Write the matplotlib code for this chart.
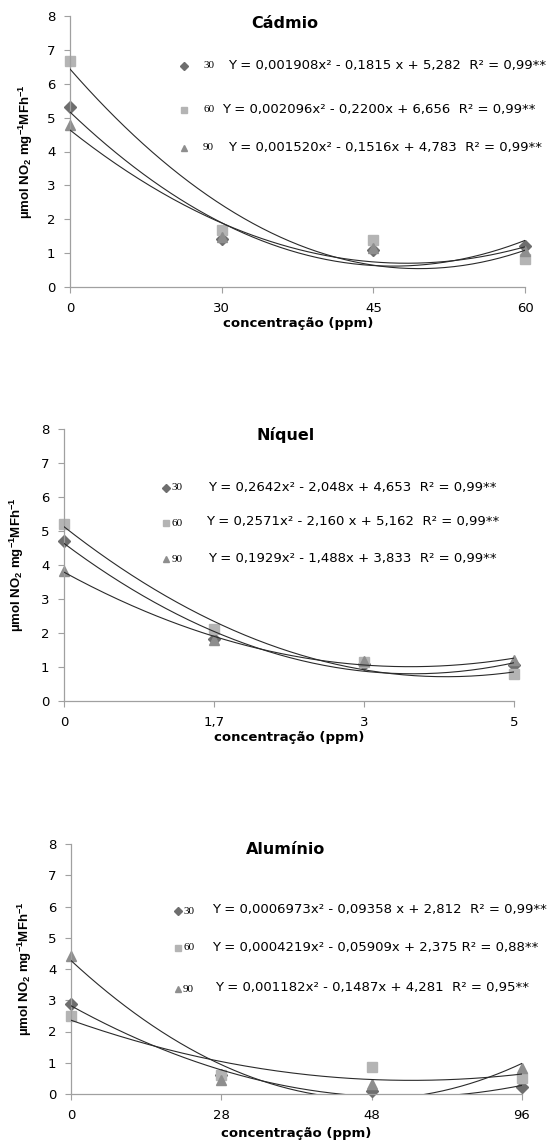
import numpy as np
import matplotlib
matplotlib.use("Agg")
import matplotlib.pyplot as plt

plt.rcParams['font.family'] = ['DejaVu Sans']
plt.rcParams['mathtext.default'] = 'regular'

W, H = 556, 1142

# data (category positions are evenly spaced)
series_names = ['30', '60', '90']

cd_labels = ['0', '30', '45', '60']
cd_30 = [5.32, 1.43, 1.10, 1.22]
cd_60 = [6.68, 1.69, 1.38, 0.84]
cd_90 = [4.77, 1.48, 1.15, 1.05]
cd_eqs = ['Y = 0,001908x² - 0,1815 x + 5,282  R² = 0,99**',
          'Y = 0,002096x² - 0,2200x + 6,656  R² = 0,99**',
          'Y = 0,001520x² - 0,1516x + 4,783  R² = 0,99**']

ni_labels = ['0', '1,7', '3', '5']
ni_30 = [4.71, 1.82, 1.10, 1.05]
ni_60 = [5.20, 2.12, 1.14, 0.78]
ni_90 = [3.83, 1.78, 1.18, 1.22]
ni_eqs = ['Y = 0,2642x² - 2,048x + 4,653  R² = 0,99**',
          'Y = 0,2571x² - 2,160 x + 5,162  R² = 0,99**',
          'Y = 0,1929x² - 1,488x + 3,833  R² = 0,99**']

al_labels = ['0', '28', '48', '96']
al_30 = [2.88, 0.60, 0.09, 0.22]
al_60 = [2.50, 0.62, 0.88, 0.50]
al_90 = [4.43, 0.46, 0.32, 0.82]
al_eqs = ['Y = 0,0006973x² - 0,09358 x + 2,812  R² = 0,99**',
          'Y = 0,0004219x² - 0,05909x + 2,375 R² = 0,88**',
          'Y = 0,001182x² - 0,1487x + 4,281  R² = 0,95**']

markers = ['D', 's', '^']
msizes = [6.5, 7.5, 7.5]
colors = ['#6e6e6e', '#b4b4b4', '#8e8e8e']

# layout in pixels: axes box (left, top, right, bottom), title, legend rows
panels = [
    dict(title='Cádmio', labels=cd_labels, ys=[cd_30, cd_60, cd_90], eqs=cd_eqs,
         box=(70, 16, 525, 287), title_xy=(285, 23), ylab_x=35, xlab_xy=(298, 323),
         mk_x=184, lab_x=203, eq_x=[228, 222, 228], rows=[65, 109, 147]),
    dict(title='Níquel', labels=ni_labels, ys=[ni_30, ni_60, ni_90], eqs=ni_eqs,
         box=(64, 429, 514, 701), title_xy=(286, 435), ylab_x=26, xlab_xy=(289, 737),
         mk_x=166, lab_x=172, eq_x=[208, 206, 208], rows=[487, 522, 558]),
    dict(title='Alumínio', labels=al_labels, ys=[al_30, al_60, al_90], eqs=al_eqs,
         box=(71, 844, 522, 1094), title_xy=(286, 850), ylab_x=34, xlab_xy=(296, 1134),
         mk_x=178, lab_x=183, eq_x=[212, 212, 215], rows=[910, 947, 988]),
]


def fx(px):
    return px / W


def fy(py):
    return 1 - py / H


fig = plt.figure(figsize=(W / 100, H / 100), dpi=100)

for p in panels:
    l, t, r, b = p['box']
    ax = fig.add_axes([fx(l), fy(b), (r - l) / W, (b - t) / H])
    pos = np.arange(len(p['labels']))
    xs = np.linspace(0, pos[-1], 200)
    for vals, m, ms, c in zip(p['ys'], markers, msizes, colors):
        # quadratic trendline over the evenly spaced categories
        coef = np.polyfit(pos, vals, 2)
        ax.plot(xs, np.polyval(coef, xs), color='#2a2a2a', lw=0.8, zorder=3)
        ax.plot(pos, vals, linestyle='none', marker=m, ms=ms, color=c,
                mec=c, clip_on=False, zorder=2)

    ax.set_xlim(0, pos[-1])
    ax.set_ylim(0, 8)
    ax.set_xticks(pos)
    ax.set_xticklabels(p['labels'])
    ax.set_yticks(range(0, 9))
    ax.tick_params(axis='both', labelsize=9.5, length=4, width=0.8,
                   color='#a0a0a0', pad=6.5)
    for s in ['top', 'right']:
        ax.spines[s].set_visible(False)
    for s in ['left', 'bottom']:
        ax.spines[s].set_color('#a0a0a0')
        ax.spines[s].set_linewidth(0.9)
    ax.patch.set_alpha(0)

    ax.set_ylabel('µmol NO$_2$ mg$^{-1}$MFh$^{-1}$', fontsize=9.5,
                  fontweight='bold', family='Liberation Sans')
    ax.yaxis.set_label_coords((p['ylab_x'] - l) / (r - l), 0.5)
    fig.text(fx(p['xlab_xy'][0]), fy(p['xlab_xy'][1]), 'concentração (ppm)',
             fontsize=9.5, fontweight='bold', ha='center', va='center')
    fig.text(fx(p['title_xy'][0]), fy(p['title_xy'][1]), p['title'],
             fontsize=11.5, fontweight='bold', ha='center', va='center')

    for name, eq, ex, row, m, c in zip(series_names, p['eqs'], p['eq_x'],
                                        p['rows'], markers, colors):
        ax.plot([fx(p['mk_x'])], [fy(row + 1)], marker=m, ms=4, color=c,
                transform=fig.transFigure, clip_on=False)
        fig.text(fx(p['lab_x']), fy(row + 1), name, fontsize=8,
                 family='Liberation Serif', ha='left', va='center')
        fig.text(fx(ex), fy(row), eq, fontsize=9.5, ha='left', va='center')

fig.savefig('out.png', dpi=100)
